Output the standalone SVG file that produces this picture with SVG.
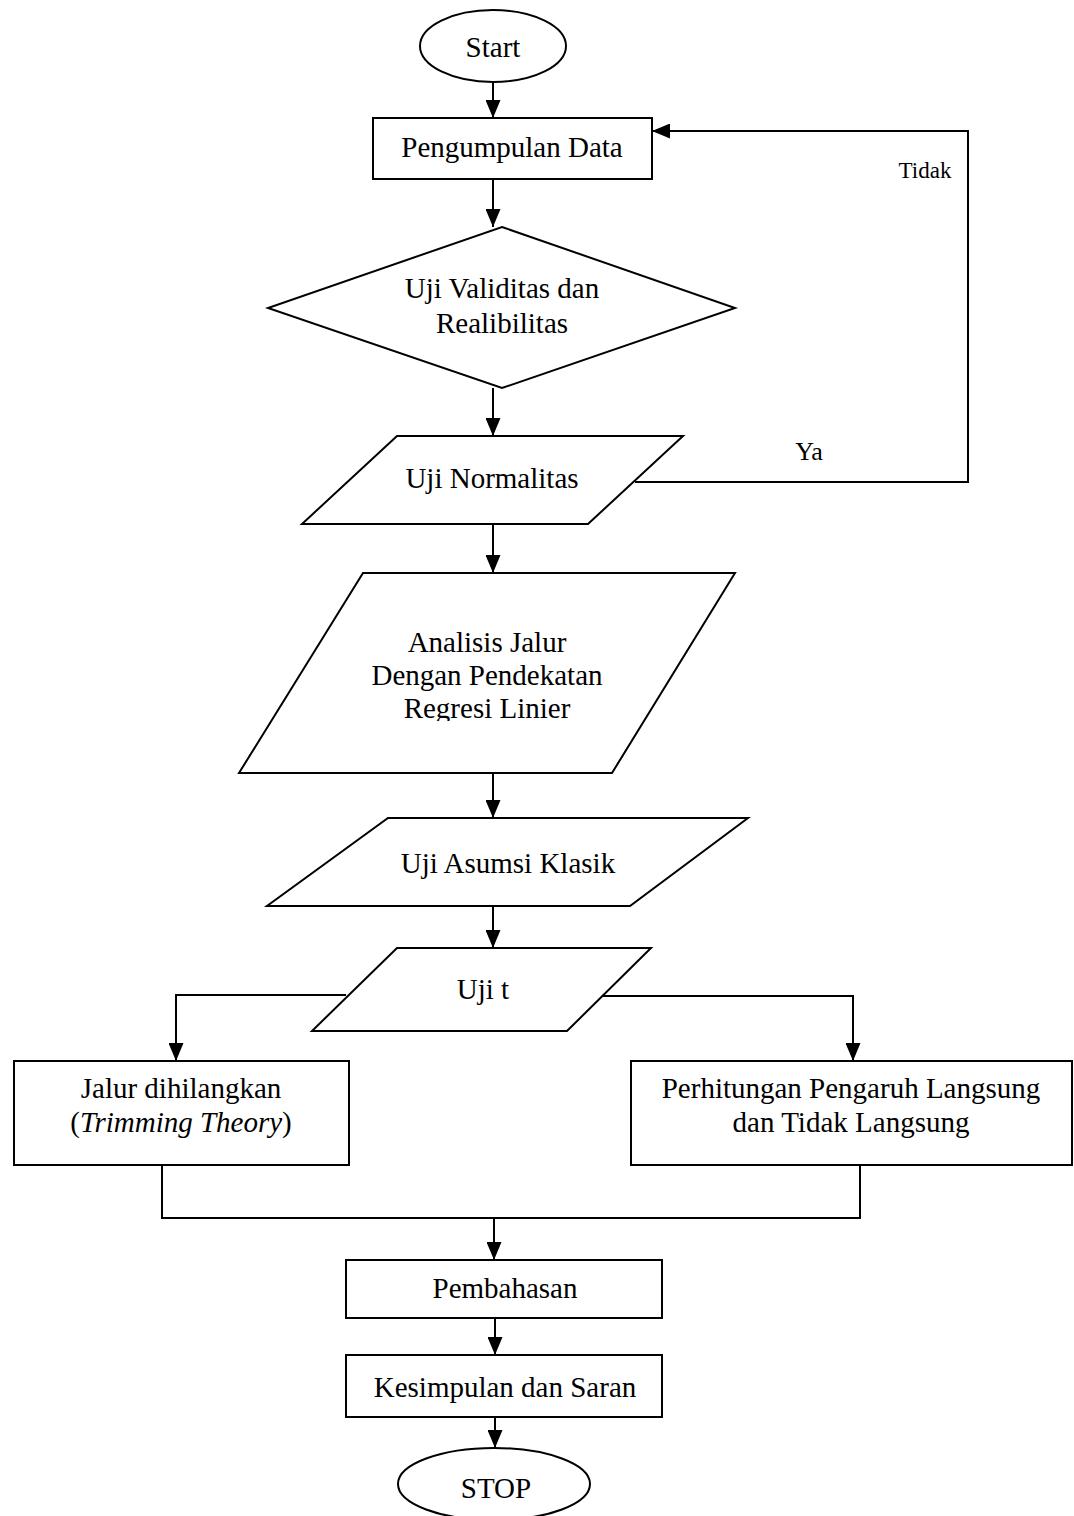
<svg xmlns="http://www.w3.org/2000/svg" width="1074" height="1516" viewBox="0 0 1074 1516">
<style>
.s{fill:#fff;stroke:#000;stroke-width:2}
.c{fill:none;stroke:#000;stroke-width:2}
.t{font-family:"Liberation Serif","Times New Roman",serif;font-size:29px;fill:#000;text-anchor:middle}
</style>
<defs>
<marker id="a" markerUnits="userSpaceOnUse" markerWidth="18" markerHeight="15" refX="18" refY="7.5" orient="auto">
<path d="M0,0 L18,7.5 L0,15 z" fill="#000"/>
</marker>
<clipPath id="clipA"><polygon points="363,573 735,573 612,773 239,773"/></clipPath>
</defs>
<rect width="1074" height="1516" fill="#fff"/>
<g id="connectors">
<line class="c" x1="493" y1="82" x2="493" y2="118" marker-end="url(#a)"/>
<line class="c" x1="493" y1="179" x2="493" y2="227" marker-end="url(#a)"/>
<line class="c" x1="493" y1="388" x2="493" y2="436" marker-end="url(#a)"/>
<polyline class="c" points="635,482 968,482 968,131 652,131" marker-end="url(#a)"/>
<line class="c" x1="493" y1="524" x2="493" y2="573" marker-end="url(#a)"/>
<line class="c" x1="493" y1="773" x2="493" y2="818" marker-end="url(#a)"/>
<line class="c" x1="493" y1="906" x2="493" y2="948" marker-end="url(#a)"/>
<polyline class="c" points="346,995 176,995 176,1061" marker-end="url(#a)"/>
<polyline class="c" points="601,996 853,996 853,1061" marker-end="url(#a)"/>
<polyline class="c" points="162,1165 162,1218 860,1218 860,1165"/>
<line class="c" x1="494" y1="1218" x2="494" y2="1260" marker-end="url(#a)"/>
<line class="c" x1="495" y1="1318" x2="495" y2="1355" marker-end="url(#a)"/>
<line class="c" x1="495" y1="1417" x2="495" y2="1448" marker-end="url(#a)"/>
<text class="t" style="font-size:23px" x="925" y="178">Tidak</text>
<text class="t" style="font-size:26px" x="809" y="460">Ya</text>
</g>
<g id="start">
<ellipse class="s" cx="493" cy="46" rx="73" ry="36"/>
<text class="t" x="493" y="57">Start</text>
</g>
<g id="pengumpulan">
<rect class="s" x="373" y="118" width="279" height="61"/>
<text class="t" x="512" y="157">Pengumpulan Data</text>
</g>
<g id="validitas">
<polygon class="s" points="502,227 735,308 502,388 268,308"/>
<text class="t" x="502" y="298">Uji Validitas dan</text>
<text class="t" x="502" y="333">Realibilitas</text>
</g>
<g id="normalitas">
<polygon class="s" points="397,436 683,436 588,524 302,524"/>
<text class="t" x="492" y="488">Uji Normalitas</text>
</g>
<g id="analisis">
<polygon class="s" points="363,573 735,573 612,773 239,773"/>
<g clip-path="url(#clipA)">
<text class="t" x="487" y="652">Analisis Jalur</text>
<text class="t" x="487" y="685">Dengan Pendekatan</text>
</g>
<clipPath id="clipR"><rect x="0" y="0" width="1074" height="721"/></clipPath>
<text class="t" x="487" y="718" clip-path="url(#clipR)">Regresi Linier</text>
</g>
<g id="asumsi">
<polygon class="s" points="388,818 748,818 630,906 267,906"/>
<text class="t" x="508" y="873">Uji Asumsi Klasik</text>
</g>
<g id="ujit">
<polygon class="s" points="397,948 651,948 567,1031 312,1031"/>
<text class="t" x="483" y="999">Uji t</text>
</g>
<g id="jalur">
<rect class="s" x="14" y="1061" width="335" height="104"/>
<text class="t" x="181" y="1098">Jalur dihilangkan</text>
<text class="t" x="181" y="1132">(<tspan font-style="italic">Trimming Theory</tspan>)</text>
</g>
<g id="perhitungan">
<rect class="s" x="631" y="1061" width="441" height="104"/>
<text class="t" x="851" y="1098">Perhitungan Pengaruh Langsung</text>
<text class="t" x="851" y="1132">dan Tidak Langsung</text>
</g>
<g id="pembahasan">
<rect class="s" x="346" y="1260" width="316" height="58"/>
<text class="t" x="505" y="1298">Pembahasan</text>
</g>
<g id="kesimpulan">
<rect class="s" x="346" y="1355" width="316" height="62"/>
<text class="t" x="505" y="1397">Kesimpulan dan Saran</text>
</g>
<g id="stop">
<ellipse class="s" cx="494" cy="1484" rx="96" ry="36"/>
<text class="t" x="496" y="1498">STOP</text>
</g>
</svg>
